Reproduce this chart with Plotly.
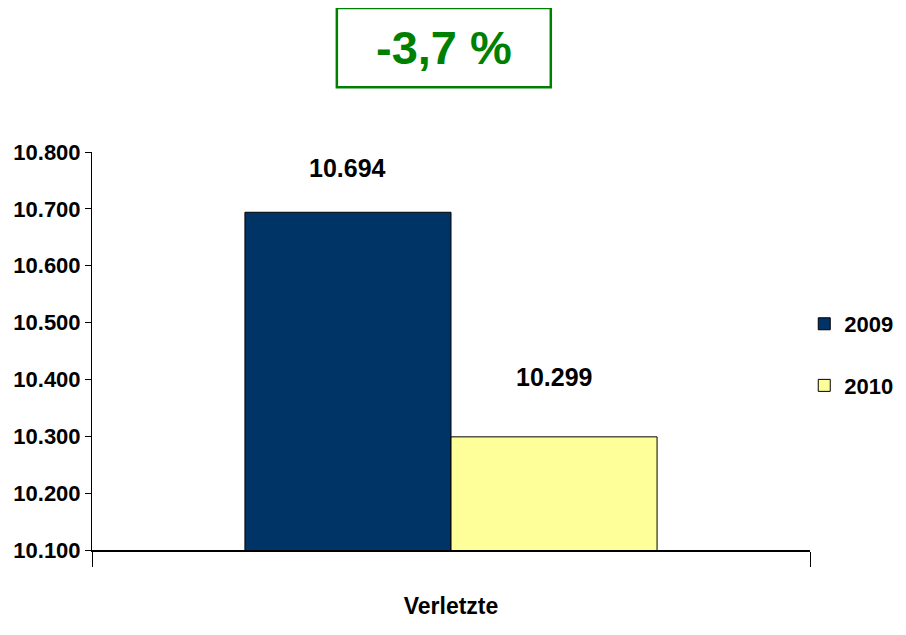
import plotly.graph_objects as go

# ---- data ----
categories = ["Verletzte"]
years = ["2009", "2010"]
values_2009 = [10694]
values_2010 = [10299]
change_label = "-3,7 %"
y_ticks = [10100, 10200, 10300, 10400, 10500, 10600, 10700, 10800]

# ---- style ----
colors = {"2009": "#003366", "2010": "#FFFF99"}
FONT = "Liberation Sans, Arial, sans-serif"
BARGAP = 0.426
label_shift = [28, 44]

fig = go.Figure()
series = [values_2009, values_2010]
for yr, vals in zip(years, series):
    fig.add_trace(go.Bar(
        x=categories, y=vals, name=yr, legendgroup=yr,
        marker=dict(color=colors[yr], line=dict(color="#000000", width=1)),
    ))

# value labels above bars
n = len(series)
bw = (1 - BARGAP) / n
for i, vals in enumerate(series):
    off = -(1 - BARGAP) / 2 + bw * (i + 0.5)
    for j, v in enumerate(vals):
        fig.add_annotation(
            x=j + off, y=v, xref="x", yref="y",
            text=f"{v:,}".replace(",", "."),
            showarrow=False, yanchor="bottom", yshift=label_shift[i],
            font=dict(family=FONT, size=25, color="#000000", weight="bold"),
        )

# boxed percentage change
fig.add_shape(type="rect", xref="paper", yref="paper",
              x0=0.341, x1=0.639, y0=1.163, y1=1.362,
              line=dict(color="#008000", width=2.5), fillcolor="rgba(0,0,0,0)")
fig.add_annotation(xref="paper", yref="paper", x=0.49, y=1.262,
                   text=change_label, showarrow=False,
                   xanchor="center", yanchor="middle",
                   font=dict(family=FONT, size=47, color="#008000", weight="bold"))

fig.update_layout(
    width=906, height=635,
    margin=dict(l=84, r=104, t=144, b=93, autoexpand=False),
    paper_bgcolor="white", plot_bgcolor="white",
    barmode="group", bargap=BARGAP, bargroupgap=0,
    separators=",.",
    showlegend=True,
    legend=dict(x=0.992, y=0.49, xanchor="left", yanchor="middle",
                traceorder="grouped", tracegroupgap=30,
                font=dict(family=FONT, size=22, color="#000000", weight="bold"),
                itemwidth=30),
    xaxis=dict(type="category", range=[-0.5, 0.5], tickson="boundaries",
               ticks="outside", ticklen=15, tickcolor="#000000", tickwidth=1,
               showline=True, linecolor="#000000", linewidth=2,
               showgrid=False, zeroline=False, ticklabelstandoff=34,
               automargin=False,
               tickfont=dict(family=FONT, size=23, color="#000000", weight="bold")),
    yaxis=dict(range=[10100, 10800], tickvals=y_ticks, tickformat=",d",
               ticks="outside", ticklen=6, tickcolor="#000000",
               showline=True, linecolor="#000000", linewidth=1,
               showgrid=False, zeroline=False, automargin=False,
               tickfont=dict(family=FONT, size=22, color="#000000", weight="bold")),
)

fig.write_html("out.html")
